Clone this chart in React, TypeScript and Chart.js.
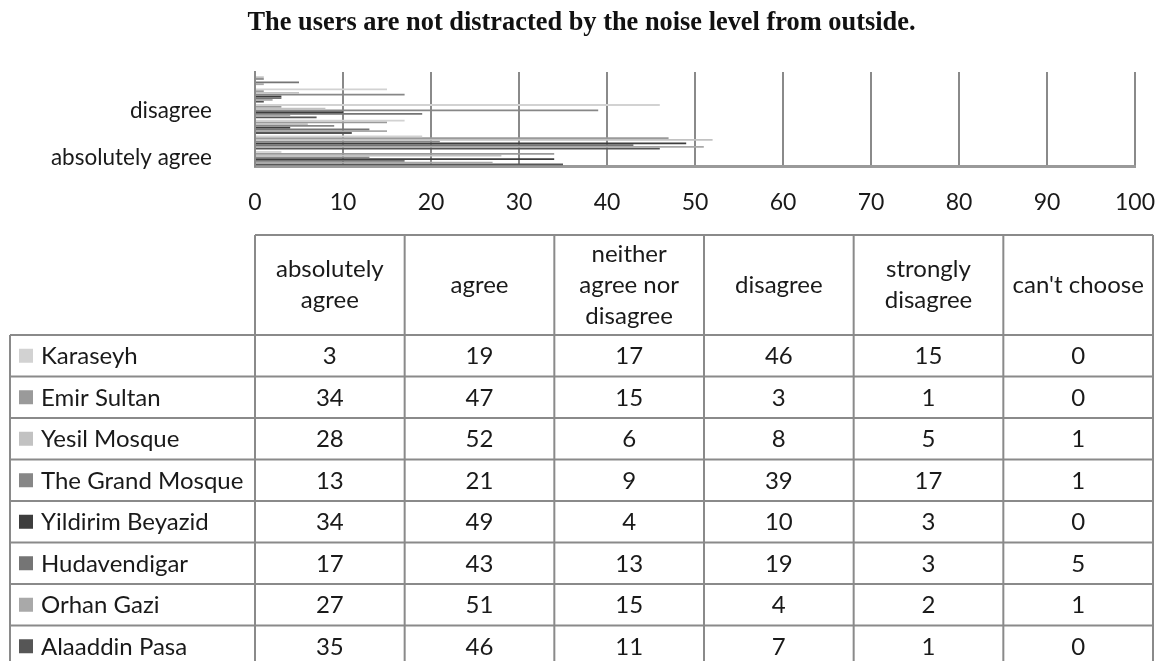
import React, { useEffect, useRef } from 'react';
import { Chart, registerables } from 'chart.js';

Chart.register(...registerables);

// ---- data ----
const TITLE = 'The users are not distracted by the noise level from outside.';

const categories = [
  'absolutely agree',
  'agree',
  'neither agree nor disagree',
  'disagree',
  'strongly disagree',
  "can't choose",
];

const mosques = [
  'Karaseyh',
  'Emir Sultan',
  'Yesil Mosque',
  'The Grand Mosque',
  'Yildirim Beyazid',
  'Hudavendigar',
  'Orhan Gazi',
  'Alaaddin Pasa',
];

const karaseyh = [3, 19, 17, 46, 15, 0];
const emirSultan = [34, 47, 15, 3, 1, 0];
const yesilMosque = [28, 52, 6, 8, 5, 1];
const grandMosque = [13, 21, 9, 39, 17, 1];
const yildirimBeyazid = [34, 49, 4, 10, 3, 0];
const hudavendigar = [17, 43, 13, 19, 3, 5];
const orhanGazi = [27, 51, 15, 4, 2, 1];
const alaaddinPasa = [35, 46, 11, 7, 1, 0];

const seriesValues = [
  karaseyh,
  emirSultan,
  yesilMosque,
  grandMosque,
  yildirimBeyazid,
  hudavendigar,
  orhanGazi,
  alaaddinPasa,
];

const seriesColors = [
  '#d2d2d2',
  '#9a9a9a',
  '#c2c2c2',
  '#878787',
  '#3d3d3d',
  '#757575',
  '#a9a9a9',
  '#565656',
];

const X_MIN = 0;
const X_MAX = 100;
const X_STEP = 10;
// category axis shows every third label
const LABEL_INTERVAL = 3;

// ---- styling ----
const FONT_FAMILY = 'Lato, "Noto Sans", sans-serif';
const FONT_SIZE = 24;
const AXIS_FONT_SIZE = 23;
const TEXT_COLOR = '#1a1a1a';
const LINE_COLOR = '#8a8a8a';

// data table geometry (below the plot)
const TABLE = {
  left: 10,
  colStart: 255,
  right: 1153,
  headerTop: 235,
  headerBottom: 335,
  rowHeight: 41.5,
  headerLineHeight: 31,
  headerWrapWidth: 135,
  swatchX: 19,
  swatchSize: 14,
  textX: 41,
};

function wrapText(ctx: CanvasRenderingContext2D, text: string, maxWidth: number): string[] {
  const words = text.split(' ');
  const lines: string[] = [];
  let line = '';
  for (const w of words) {
    const test = line ? line + ' ' + w : w;
    if (ctx.measureText(test).width > maxWidth && line) {
      lines.push(line);
      line = w;
    } else {
      line = test;
    }
  }
  if (line) lines.push(line);
  return lines;
}

const titlePlugin = {
  id: 'serifTitle',
  afterDraw(chart: any) {
    const { ctx, width } = chart;
    ctx.save();
    ctx.font = 'bold 27px "Liberation Serif", "Times New Roman", serif';
    ctx.fillStyle = '#111';
    ctx.textAlign = 'center';
    ctx.textBaseline = 'middle';
    ctx.translate(width / 2 + 2, 23);
    ctx.scale(0.977, 1);
    ctx.fillText(TITLE, 0, 0);
    ctx.restore();
  },
};

const dataTablePlugin = {
  id: 'dataTable',
  afterDraw(chart: any) {
    const { ctx, height } = chart;
    const t = TABLE;
    const nCols = categories.length;
    const colW = (t.right - t.colStart) / nCols;

    ctx.save();
    ctx.font = `${FONT_SIZE}px ${FONT_FAMILY}`;
    ctx.fillStyle = TEXT_COLOR;
    ctx.textAlign = 'center';
    ctx.textBaseline = 'middle';

    // header cells
    categories.forEach((cat, c) => {
      const cx = t.colStart + colW * (c + 0.5);
      const lines = wrapText(ctx, cat, t.headerWrapWidth);
      const midY = (t.headerTop + t.headerBottom) / 2;
      const startY = midY - ((lines.length - 1) * t.headerLineHeight) / 2;
      lines.forEach((ln, i) => ctx.fillText(ln, cx, startY + i * t.headerLineHeight));
    });

    // body rows
    mosques.forEach((name, r) => {
      const top = t.headerBottom + r * t.rowHeight;
      const cy = top + t.rowHeight / 2;
      ctx.fillStyle = seriesColors[r];
      ctx.fillRect(t.swatchX, cy - t.swatchSize / 2, t.swatchSize, t.swatchSize);
      ctx.fillStyle = TEXT_COLOR;
      ctx.textAlign = 'left';
      ctx.fillText(name, t.textX, cy + 1);
      ctx.textAlign = 'center';
      seriesValues[r].forEach((v, c) => {
        ctx.fillText(String(v), t.colStart + colW * (c + 0.5), cy + 1);
      });
    });

    // grid lines
    ctx.strokeStyle = LINE_COLOR;
    ctx.lineWidth = 2;
    ctx.beginPath();
    ctx.moveTo(t.colStart, t.headerTop);
    ctx.lineTo(t.right, t.headerTop);
    for (let r = 0; r <= mosques.length; r++) {
      const y = t.headerBottom + r * t.rowHeight;
      ctx.moveTo(t.left, y);
      ctx.lineTo(t.right, y);
    }
    for (let c = 0; c <= nCols; c++) {
      const x = t.colStart + c * colW;
      ctx.moveTo(x, t.headerTop);
      ctx.lineTo(x, height);
    }
    ctx.moveTo(t.left, t.headerBottom);
    ctx.lineTo(t.left, height);
    ctx.stroke();
    ctx.restore();
  },
};

export default function App() {
  const canvasRef = useRef<HTMLCanvasElement | null>(null);

  useEffect(() => {
    if (!canvasRef.current) return;
    const chart = new Chart(canvasRef.current, {
      type: 'bar',
      data: {
        labels: categories,
        datasets: mosques.map((name, i) => ({
          label: name,
          data: seriesValues[i],
          backgroundColor: seriesColors[i],
          borderWidth: 0,
          barPercentage: 1,
          categoryPercentage: 0.9,
        })),
      },
      options: {
        indexAxis: 'y',
        animation: false,
        responsive: false,
        layout: {
          padding: { left: 10, right: 24, top: 72, bottom: 435 },
        },
        plugins: {
          legend: { display: false },
          title: { display: false },
          tooltip: { enabled: false },
        },
        scales: {
          x: {
            min: X_MIN,
            max: X_MAX,
            ticks: {
              stepSize: X_STEP,
              padding: 23,
              color: TEXT_COLOR,
              font: { family: FONT_FAMILY, size: AXIS_FONT_SIZE },
              maxRotation: 0,
            },
            grid: { color: LINE_COLOR, lineWidth: 2, drawTicks: false },
            border: { color: '#9a9a9a', width: 3 },
            afterFit(scale: any) {
              scale.height = 60;
              scale.paddingLeft = 0;
              scale.paddingRight = 0;
            },
          },
          y: {
            reverse: true,
            ticks: {
              autoSkip: false,
              padding: 43,
              color: TEXT_COLOR,
              font: { family: FONT_FAMILY, size: 22.5 },
              callback: (_v: any, i: number) => (i % LABEL_INTERVAL === 0 ? categories[i] : ''),
            },
            grid: { display: false, drawTicks: false },
            border: { color: LINE_COLOR, width: 2 },
            afterFit(scale: any) {
              scale.width = 245;
            },
          },
        },
      },
      plugins: [titlePlugin, dataTablePlugin],
    });
    return () => chart.destroy();
  }, []);

  return (
    <div style={{ position: 'absolute', left: 0, top: 0, width: 1159, height: 661, background: '#fff' }}>
      <canvas ref={canvasRef} width={1159} height={661} />
    </div>
  );
}
